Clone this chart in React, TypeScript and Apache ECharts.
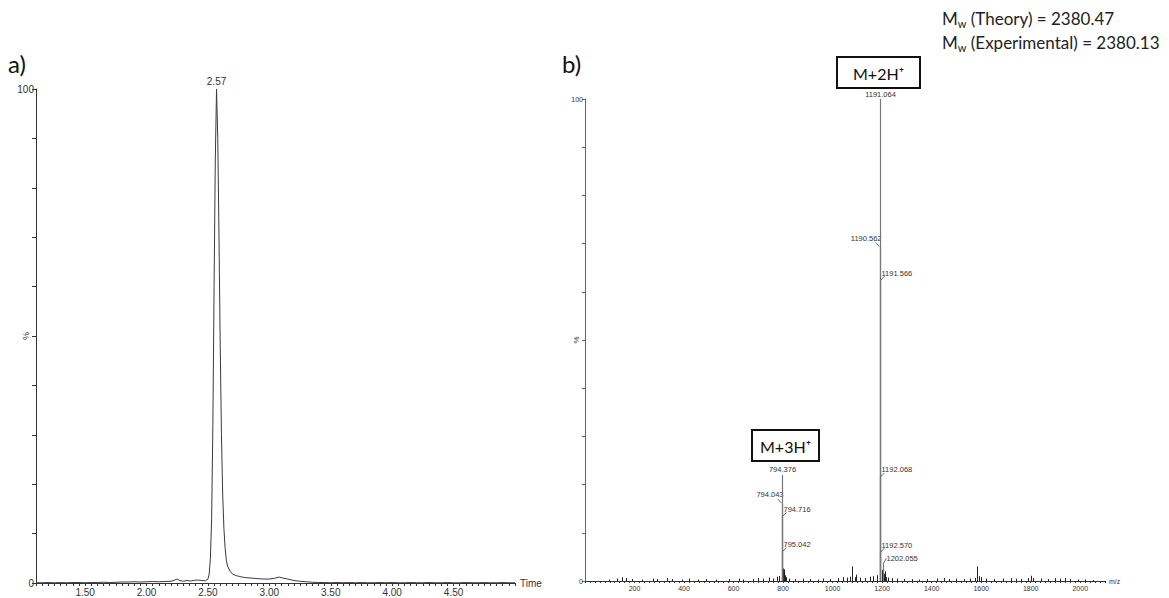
import React, { useEffect, useRef } from "react";
import * as echarts from "echarts";

// ---- Panel a) chromatogram: [time (min), intensity (%)] ----
const chromatogram: [number, number][] = [
  [1.1, 0.05], [1.15, 0.05], [1.2, 0.1], [1.25, 0.05], [1.3, 0.1], [1.35, 0.05], [1.4, 0.1], [1.45, 0.1],
  [1.5, 0.05], [1.55, 0.1], [1.6, 0.1], [1.65, 0.15], [1.7, 0.1], [1.75, 0.15], [1.8, 0.2],
  [1.85, 0.2], [1.9, 0.25], [1.95, 0.2], [2.0, 0.25], [2.05, 0.3], [2.1, 0.25], [2.15, 0.3],
  [2.2, 0.35], [2.23, 0.6], [2.25, 0.8], [2.27, 0.5], [2.3, 0.35], [2.33, 0.5], [2.36, 0.4],
  [2.39, 0.55], [2.42, 0.6], [2.45, 0.5], [2.48, 0.45], [2.5, 0.8], [2.51, 1.8], [2.52, 5],
  [2.53, 13], [2.54, 32], [2.55, 60], [2.56, 86], [2.57, 100], [2.58, 90], [2.59, 70],
  [2.6, 48], [2.61, 30], [2.62, 18], [2.63, 11], [2.64, 7], [2.65, 4.6], [2.66, 3.4],
  [2.68, 2.4], [2.7, 1.8], [2.73, 1.5], [2.76, 1.3], [2.8, 1.1], [2.85, 1.0], [2.9, 0.9],
  [2.95, 0.8], [3.0, 0.8], [3.04, 0.95], [3.08, 1.2], [3.11, 1.0], [3.15, 0.8], [3.2, 0.5],
  [3.25, 0.35], [3.3, 0.25], [3.35, 0.15], [3.4, 0.1], [3.45, 0.1], [3.5, 0.05], [3.55, 0.1],
  [3.6, 0.05], [3.65, 0.1], [3.7, 0.05], [3.75, 0.1], [3.8, 0.05], [3.85, 0.05], [3.9, 0.1],
  [3.95, 0.05], [4.0, 0.1], [4.05, 0.05], [4.1, 0.05], [4.15, 0.1], [4.2, 0.05], [4.25, 0.05],
  [4.3, 0.1], [4.35, 0.05], [4.4, 0.05], [4.45, 0.1], [4.5, 0.05], [4.55, 0.05], [4.6, 0.1],
  [4.65, 0.05], [4.7, 0.05], [4.75, 0.1], [4.8, 0.05], [4.85, 0.05], [4.9, 0.1], [4.95, 0.05],
  [5.0, 0.05],
];
const chromPeak: [number, number] = [2.57, 100];
const chromPeakLabel = "2.57";

// ---- Panel b) mass spectrum: small peaks [m/z, intensity %] ----
const spectrumNoise: [number, number][] = [
  [95, 0.3], [130, 0.5], [150, 0.8], [165, 0.6], [190, 0.4], [230, 0.3], [275, 0.5], [290, 0.4],
  [330, 0.6], [350, 0.4], [390, 0.3], [420, 0.5], [455, 0.3], [490, 0.4], [530, 0.3], [580, 0.4],
  [620, 0.5], [640, 0.3], [680, 0.4], [700, 0.6], [720, 0.5], [745, 0.7], [760, 0.5], [775, 0.9],
  [785, 1.0], [795.4, 2.0], [800, 2.6], [801, 1.9], [803, 2.4], [805, 1.6], [808, 1.2], [812, 0.8],
  [825, 0.5], [850, 0.4], [880, 0.5], [910, 0.4], [940, 0.3], [960, 0.5], [990, 0.4], [1020, 0.6],
  [1040, 0.8], [1060, 0.7], [1070, 0.9], [1080, 3.0], [1090, 0.8], [1095, 1.3], [1110, 0.7],
  [1130, 0.6], [1150, 0.9], [1165, 1.0], [1180, 1.2], [1193.1, 2.0], [1198, 2.3], [1206, 1.5],
  [1210, 2.0], [1215, 0.8], [1225, 0.7], [1240, 0.6], [1260, 0.5], [1290, 0.4], [1320, 0.4],
  [1350, 0.3], [1380, 0.4], [1420, 0.5], [1450, 0.6], [1470, 0.4], [1500, 0.5], [1530, 0.4],
  [1555, 0.5], [1575, 0.6], [1584, 3.0], [1592, 1.0], [1600, 0.8], [1620, 0.5], [1650, 0.4],
  [1690, 0.5], [1720, 0.6], [1740, 0.5], [1760, 0.4], [1790, 0.6], [1800, 1.1], [1810, 0.6],
  [1840, 0.5], [1870, 0.4], [1900, 0.6], [1920, 0.5], [1940, 0.6], [1960, 0.4], [1990, 0.3],
  [2020, 0.3], [2050, 0.2],
];

// labelled peaks
const peakMz = [794.043, 794.376, 794.716, 795.042, 1190.562, 1191.064, 1191.566, 1192.068, 1192.57, 1202.055];
const peakIntensity = [16.0, 22.0, 13.4, 6.1, 69.2, 100, 62.4, 21.6, 6.0, 3.7];
const peakLabelSide = ["left", "top", "right", "right", "left", "top", "right", "right", "right", "rightLow"];

const ionLabels = ["M+2H⁺", "M+3H⁺"];
const mwLines = [
  ["M", "w", " (Theory) = 2380.47"],
  ["M", "w", " (Experimental) = 2380.13"],
];

const AXIS_FONT = "Liberation Sans";
const TEXT_FONT = "Lato";

function isMult(v: number, step: number) {
  const r = v / step;
  return Math.abs(r - Math.round(r)) < 1e-6;
}

export default function App() {
  const ref = useRef<HTMLDivElement>(null);
  useEffect(() => {
    const chart = echarts.init(ref.current!, null, { renderer: "svg" });
    const axisColor = "#333";
    const labelColor = "#333";
    const option: any = {
      animation: false,
      color: ["#333"],
      grid: [
        { left: 36, top: 89, width: 479, height: 494 },
        { left: 585, top: 99, width: 520, height: 482 },
      ],
      xAxis: [
        {
          type: "value", gridIndex: 0, min: 1.1, max: 5.0, interval: 0.05,
          name: "Time", nameLocation: "end", nameGap: 5,
          nameTextStyle: { fontSize: 10, color: axisColor, fontFamily: AXIS_FONT },
          axisLine: { lineStyle: { color: axisColor, width: 1 } },
          axisTick: { length: 3, lineStyle: { color: axisColor } },
          axisLabel: {
            fontSize: 10, color: axisColor, fontFamily: AXIS_FONT, margin: 4,
            formatter: (v: number) => (v < 4.99 && isMult(v, 0.5) ? v.toFixed(2) : ""),
          },
          splitLine: { show: false },
        },
        {
          type: "value", gridIndex: 1, min: 0, max: 2100, interval: 20,
          name: "m/z", nameLocation: "end", nameGap: 4,
          nameTextStyle: { fontSize: 7, color: axisColor, fontFamily: AXIS_FONT },
          axisLine: { lineStyle: { color: axisColor, width: 1 } },
          axisTick: { length: 2, lineStyle: { color: axisColor } },
          axisLabel: {
            fontSize: 7, color: axisColor, fontFamily: AXIS_FONT, margin: 4,
            formatter: (v: number) => (v > 0 && v <= 2000 && isMult(v, 200) ? String(v) : ""),
          },
          splitLine: { show: false },
        },
      ],
      yAxis: [
        {
          type: "value", gridIndex: 0, min: 0, max: 100, interval: 10,
          name: "%", nameLocation: "middle", nameGap: 6, nameRotate: 90, nameMoveOverlap: false,
          nameTextStyle: { fontSize: 9, color: axisColor, fontFamily: AXIS_FONT },
          axisLine: { show: true, lineStyle: { color: axisColor, width: 1 } },
          axisTick: { show: true, length: 4, lineStyle: { color: axisColor } },
          axisLabel: {
            fontSize: 10, color: axisColor, fontFamily: AXIS_FONT, margin: 2,
            formatter: (v: number) => (v === 0 || v === 100 ? String(v) : ""),
          },
          splitLine: { show: false },
        },
        {
          type: "value", gridIndex: 1, min: 0, max: 100, interval: 10,
          name: "%", nameLocation: "middle", nameGap: 5, nameRotate: 90, nameMoveOverlap: false,
          nameTextStyle: { fontSize: 8, color: axisColor, fontFamily: AXIS_FONT },
          axisLine: { show: true, lineStyle: { color: "#666", width: 1 } },
          axisTick: { show: true, length: 3, lineStyle: { color: "#666" } },
          axisLabel: {
            fontSize: 7, color: axisColor, fontFamily: AXIS_FONT, margin: 2,
            formatter: (v: number) => (v === 0 || v === 100 ? String(v) : ""),
          },
          splitLine: { show: false },
        },
      ],
      series: [
        {
          type: "line", xAxisIndex: 0, yAxisIndex: 0, data: chromatogram,
          showSymbol: false, symbol: "none", lineStyle: { color: "#3a3a3a", width: 1 },
          itemStyle: { color: "#3a3a3a" },
          markPoint: {
            symbol: "circle", symbolSize: 0,
            data: [{ coord: chromPeak }],
            label: {
              show: true, position: "top", distance: 3, formatter: chromPeakLabel,
              fontSize: 10, color: axisColor, fontFamily: AXIS_FONT,
            },
          },
        },
        {
          type: "custom", xAxisIndex: 1, yAxisIndex: 1, data: spectrumNoise,
          itemStyle: { color: "#222" },
          renderItem: (params: any, api: any) => {
            const p0 = api.coord([api.value(0), 0]);
            const p1 = api.coord([api.value(0), api.value(1)]);
            const x = Math.round(p0[0]) + 0.5;
            return {
              type: "line",
              shape: { x1: x, y1: p0[1], x2: x, y2: p1[1] },
              style: { stroke: "#222", lineWidth: 1 },
            };
          },
        },
        {
          type: "custom", xAxisIndex: 1, yAxisIndex: 1, z: 5,
          itemStyle: { color: labelColor },
          data: peakMz.map((m, i) => [m, peakIntensity[i]]),
          renderItem: (params: any, api: any) => {
            const i = params.dataIndex;
            const mz = api.value(0);
            const p0 = api.coord([mz, 0]);
            const p1 = api.coord([mz, api.value(1)]);
            const x = Math.round(p0[0]) + 0.5;
            const y = p1[1];
            const label = peakMz[i].toFixed(3);
            const side = peakLabelSide[i];
            const ts = { fill: labelColor, textFill: labelColor, stroke: "none", fontSize: 7.5, fontFamily: AXIS_FONT };
            const children: any[] = [
              { type: "line", shape: { x1: x, y1: p0[1], x2: x, y2: y }, style: { stroke: "#777", lineWidth: 1.2 } },
            ];
            const mk = (tx: number, ty: number, align: string, valign: string) => ({
              type: "text", x: tx, y: ty,
              style: { ...ts, text: label, align, verticalAlign: valign, textAlign: align, textVerticalAlign: valign },
            });
            if (side === "top") {
              children.push(mk(x, y - 1, "center", "bottom"));
            } else if (side === "left") {
              children.push({ type: "line", shape: { x1: x - 1, y1: y - 1, x2: x - 5, y2: y - 5 }, style: { stroke: "#444", lineWidth: 0.8 } });
              children.push(mk(x + 1, y - 5, "right", "bottom"));
            } else if (side === "right") {
              children.push({ type: "line", shape: { x1: x, y1: y, x2: x + 4, y2: y - 4 }, style: { stroke: "#444", lineWidth: 0.8 } });
              children.push(mk(x + 1, y - 3, "left", "bottom"));
            } else {
              children.push({ type: "line", shape: { x1: x, y1: y, x2: x + 3, y2: y - 5 }, style: { stroke: "#444", lineWidth: 0.8 } });
              children.push(mk(x + 3, y - 5, "left", "middle"));
            }
            return { type: "group", children };
          },
        },
      ],
      graphic: [
        { type: "text", x: 8, y: 63, style: { text: "a)", fontSize: 24, fontFamily: TEXT_FONT, fill: "#111", align: "left", verticalAlign: "middle", textAlign: "left", textVerticalAlign: "middle" } },
        { type: "text", x: 562, y: 63, style: { text: "b)", fontSize: 24, fontFamily: TEXT_FONT, fill: "#111", align: "left", verticalAlign: "middle", textAlign: "left", textVerticalAlign: "middle" } },
        { type: "rect", shape: { x: 837, y: 57, width: 83, height: 31 }, style: { fill: "#fff", stroke: "#111", lineWidth: 2 } },
        { type: "text", x: 878.5, y: 73, style: { text: ionLabels[0], fontSize: 16, fontFamily: TEXT_FONT, fill: "#111", align: "center", verticalAlign: "middle", textAlign: "center", textVerticalAlign: "middle" } },
        { type: "rect", shape: { x: 752, y: 430, width: 67, height: 31 }, style: { fill: "#fff", stroke: "#111", lineWidth: 2 } },
        { type: "text", x: 785.5, y: 446, style: { text: ionLabels[1], fontSize: 16, fontFamily: TEXT_FONT, fill: "#111", align: "center", verticalAlign: "middle", textAlign: "center", textVerticalAlign: "middle" } },
        ...mwLines.map((ln, k) => ({
          type: "text", x: 942, y: 18 + k * 24,
          style: {
            text: `{m|${ln[0]}}{s|${ln[1]}}{m|${ln[2]}}`,
            align: "left", verticalAlign: "middle", textAlign: "left", textVerticalAlign: "middle",
            rich: {
              m: { fontSize: 17, fontFamily: TEXT_FONT, fill: "#222", lineHeight: 21 },
              s: { fontSize: 11, fontFamily: TEXT_FONT, fill: "#222", lineHeight: 11, verticalAlign: "bottom" },
            },
          },
        })),
      ],
    };
    chart.setOption(option);
    return () => chart.dispose();
  }, []);
  return <div ref={ref} style={{ position: "fixed", left: 0, top: 0, width: 1169, height: 598, background: "#fff" }} />;
}
